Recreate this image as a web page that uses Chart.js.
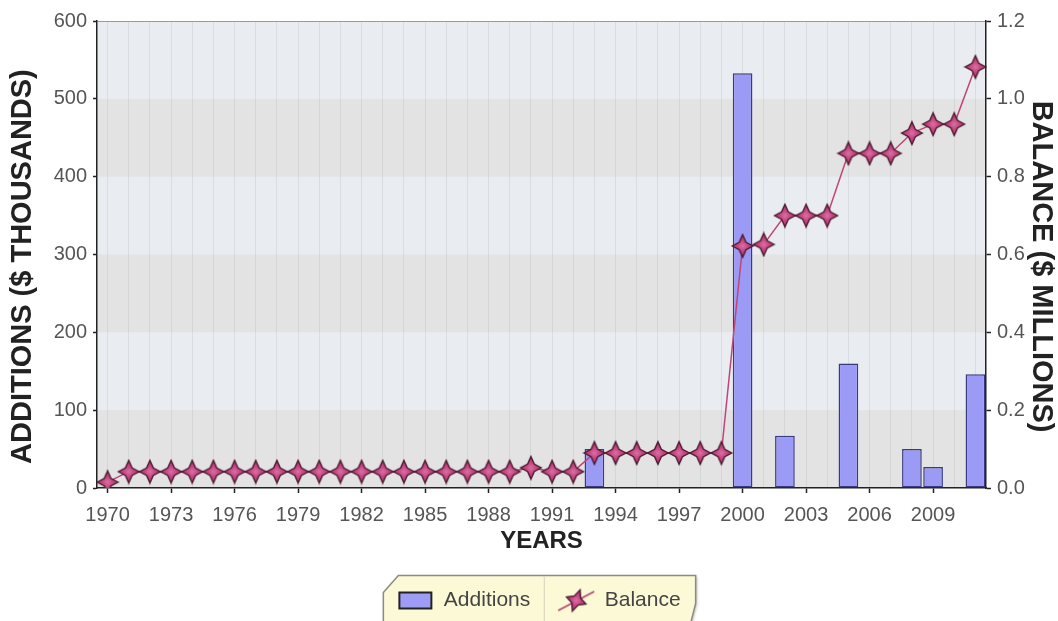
<!DOCTYPE html>
<html>
<head>
<meta charset="utf-8">
<script src="https://cdn.jsdelivr.net/npm/chart.js@4.4.1/dist/chart.umd.min.js"></script>
<style>
html,body{margin:0;padding:0;background:#fff;}
#c{display:block;}
</style>
</head>
<body>
<canvas id="c" width="1058" height="621"></canvas>
<script>
// ---------- data ----------
const years = ['1970','1971','1972','1973','1974','1975','1976','1977','1978','1979',
  '1980','1981','1982','1983','1984','1985','1986','1987','1988','1989',
  '1990','1991','1992','1993','1994','1995','1996','1997','1998','1999',
  '2000','2001','2002','2003','2004','2005','2006','2007','2008','2009',
  '2010','2011'];

const shownYears = ['1970','1973','1976','1979','1982','1985','1988','1991',
  '1994','1997','2000','2003','2006','2009'];

// Additions ($ thousands), left axis
const additions = [null,null,null,null,null,null,null,null,null,null,
  null,null,null,null,null,null,null,1.5,null,null,
  null,null,null,50,null,null,null,null,null,null,
  533,null,67,null,null,160,null,null,50,27,
  null,146];

// Balance ($ millions), right axis
const balance = [0.015,0.042,0.042,0.042,0.042,0.042,0.042,0.042,0.042,0.042,
  0.042,0.042,0.042,0.042,0.042,0.042,0.042,0.042,0.042,0.042,
  0.052,0.042,0.042,0.09,0.09,0.09,0.09,0.09,0.09,0.09,
  0.622,0.626,0.70,0.70,0.70,0.86,0.86,0.86,0.912,0.935,
  0.935,1.082];

const leftAxisTitle = 'ADDITIONS ($ THOUSANDS)   ';
const rightAxisTitle = '   BALANCE ($ MILLIONS)';
const xAxisTitle = 'YEARS';

// ---------- styling ----------
const FONT = '"Liberation Sans", Arial, Helvetica, sans-serif';
const grayBands = [[0,100],[200,300],[400,500]];

function drawStarShape(g, sw, sh) {
  const rx = sw / 2 - 1.2, ry = sh / 2 - 1.2;
  g.beginPath();
  for (let i = 0; i < 8; i++) {
    const a = -Math.PI / 2 + i * Math.PI / 4;
    const k = (i % 2 === 0) ? 1 : 0.46;
    const px = Math.cos(a) * rx * k, py = Math.sin(a) * ry * k;
    if (i === 0) g.moveTo(px, py); else g.lineTo(px, py);
  }
  g.closePath();
  const grad = g.createRadialGradient(0, 0, 0, 0, 0, ry);
  grad.addColorStop(0, '#de6fa6');
  grad.addColorStop(0.45, '#c24880');
  grad.addColorStop(1, '#a63a6a');
  g.fillStyle = grad;
  g.fill();
  g.strokeStyle = '#4e1830';
  g.lineWidth = 1.4;
  g.stroke();
}

function makeStar(w, h, rot, withLine) {
  const c = document.createElement('canvas');
  c.width = w; c.height = h;
  const g = c.getContext('2d');
  if (withLine) {
    g.strokeStyle = '#a8456f';
    g.lineWidth = 1.5;
    g.beginPath(); g.moveTo(2, h - 3); g.lineTo(w - 2, 4); g.stroke();
  }
  g.save();
  g.translate(w / 2, h / 2);
  g.rotate(rot);
  drawStarShape(g, 23, 25);
  g.restore();
  return c;
}

function makeBarIcon(w, h) {
  const c = document.createElement('canvas');
  c.width = w; c.height = h;
  const g = c.getContext('2d');
  g.fillStyle = '#9d9df5';
  g.fillRect(2, 2, w - 4, h - 4);
  g.strokeStyle = '#222';
  g.lineWidth = 2;
  g.strokeRect(2, 2, w - 4, h - 4);
  return c;
}

const starPoint = makeStar(24, 26, 0, false);
const legendIcons = [makeBarIcon(36, 20), makeStar(40, 26, 0.35, true)];

const LEG_FS = 21, LEG_PAD = 28, LEG_BOX = 36;

const bgPlugin = {
  id: 'bg',
  afterLayout(chart) {
    const lg = chart.legend;
    if (lg) { lg.left += 10; lg.right += 10; }
  },
  beforeDraw(chart) {
    const {ctx, chartArea: a, scales: {y}} = chart;
    ctx.save();
    ctx.fillStyle = '#ffffff';
    ctx.fillRect(0, 0, chart.width, chart.height);
    ctx.fillStyle = '#e9edf1';
    ctx.fillRect(a.left, a.top, a.width, a.height);
    ctx.fillStyle = '#e3e3e3';
    grayBands.forEach(([lo, hi]) => {
      const t = y.getPixelForValue(hi), b = y.getPixelForValue(lo);
      ctx.fillRect(a.left, t, a.width, b - t);
    });
    // legend frame
    const lg = chart.legend;
    if (lg && lg.legendItems && lg.legendItems.length) {
      ctx.font = LEG_FS + 'px ' + FONT;
      const ws = lg.legendItems.map(it => LEG_BOX + LEG_FS / 2 + ctx.measureText(it.text).width);
      const total = ws.reduce((s, w) => s + w, 0) + LEG_PAD * (ws.length - 1);
      const cx = (lg.left + lg.right) / 2;
      const x0 = cx - total / 2;
      const cy = lg.top + LEG_PAD + LEG_FS / 2;
      const top = cy - 25;
      const L = x0 - 14, R = x0 + total + 15, B = chart.height + 10;
      ctx.save();
      ctx.shadowColor = 'rgba(0,0,0,0.35)';
      ctx.shadowBlur = 3;
      ctx.shadowOffsetX = 1; ctx.shadowOffsetY = 1;
      ctx.beginPath();
      ctx.moveTo(x0 + 1, top);
      ctx.lineTo(R, top);
      ctx.lineTo(R, top + 28);
      ctx.lineTo(R - 7, B);
      ctx.lineTo(L, B);
      ctx.lineTo(L, top + 17);
      ctx.closePath();
      ctx.fillStyle = '#fcfad6';
      ctx.fill();
      ctx.restore();
      ctx.strokeStyle = '#8c8c84';
      ctx.lineWidth = 1.5;
      ctx.stroke();
      const dx = x0 + ws[0] + LEG_PAD / 2;
      ctx.beginPath();
      ctx.moveTo(dx, top + 1); ctx.lineTo(dx, B);
      ctx.strokeStyle = '#d2d0b8';
      ctx.lineWidth = 1;
      ctx.stroke();
    }
    ctx.restore();
  }
};

new Chart(document.getElementById('c').getContext('2d'), {
  type: 'bar',
  data: {
    labels: years,
    datasets: [
      {
        label: 'Additions',
        data: additions,
        yAxisID: 'y',
        backgroundColor: '#9b9bf6',
        borderColor: '#3a3a80',
        borderWidth: 1.5,
        borderSkipped: false,
        barPercentage: 0.93,
        categoryPercentage: 1.0,
        order: 1
      },
      {
        type: 'line',
        label: 'Balance',
        data: balance,
        yAxisID: 'y1',
        borderColor: '#c0457a',
        borderWidth: 1.5,
        pointStyle: starPoint,
        pointRadius: 11,
        pointHoverRadius: 11,
        fill: false,
        tension: 0,
        order: 0
      }
    ]
  },
  options: {
    responsive: false,
    animation: false,
    devicePixelRatio: 1,
    events: [],
    layout: { padding: { top: 21, left: 0, right: 0, bottom: 0 } },
    plugins: {
      tooltip: { enabled: false },
      legend: {
        position: 'bottom',
        labels: {
          usePointStyle: true,
          pointStyleWidth: LEG_BOX,
          padding: LEG_PAD,
          color: '#444',
          font: { size: LEG_FS, family: FONT },
          generateLabels(chart) {
            const items = Chart.defaults.plugins.legend.labels.generateLabels(chart);
            items.sort((p, q) => p.datasetIndex - q.datasetIndex);
            items.forEach((it) => { it.pointStyle = legendIcons[it.datasetIndex]; it.fontColor = '#444'; });
            return items;
          }
        }
      }
    },
    scales: {
      x: {
        offset: true,
        grid: {
          offset: false,
          color: 'rgba(150,160,172,0.2)',
          tickColor: (c) => shownYears.includes(years[c.index]) ? '#222' : 'rgba(0,0,0,0)',
          tickLength: 5,
          tickWidth: 1.5
        },
        border: { color: '#222', width: 1.5 },
        ticks: {
          autoSkip: false, maxRotation: 0, minRotation: 0, padding: 10,
          color: '#555', font: { size: 20, family: FONT },
          callback(v) { const l = this.getLabelForValue(v); return shownYears.includes(l) ? l : ''; }
        },
        title: { display: true, text: xAxisTitle, color: '#222',
          font: { size: 24, weight: 'bold', family: FONT }, padding: { top: 0, bottom: 6 } },
        afterFit(s) { s.height = 74; }
      },
      y: {
        position: 'left', min: 0, max: 600,
        ticks: { stepSize: 100, padding: 6, color: '#555', font: { size: 20, family: FONT } },
        grid: {
          color: (c) => c.tick && c.tick.value === 600 ? '#9a9a9a' : 'rgba(0,0,0,0)',
          tickColor: '#222', tickLength: 4, tickWidth: 1.5
        },
        border: { color: '#222', width: 1.5 },
        title: { display: true, text: leftAxisTitle, color: '#222',
          font: { size: 29, weight: 'bold', family: FONT }, padding: { top: 6, bottom: 0 } },
        afterFit(s) { s.width = 97; }
      },
      y1: {
        position: 'right', min: 0, max: 1.2,
        ticks: { stepSize: 0.2, padding: 6, color: '#555', font: { size: 20, family: FONT },
          callback: (v) => Number(v).toFixed(1) },
        grid: { drawOnChartArea: false, tickColor: '#222', tickLength: 5, tickWidth: 1.5 },
        border: { color: '#222', width: 1.5 },
        title: { display: true, text: rightAxisTitle, color: '#222',
          font: { size: 29, weight: 'bold', family: FONT }, padding: { top: 0, bottom: 0 } },
        afterFit(s) { s.width = 72; }
      }
    }
  },
  plugins: [bgPlugin]
});
</script>
</body>
</html>
